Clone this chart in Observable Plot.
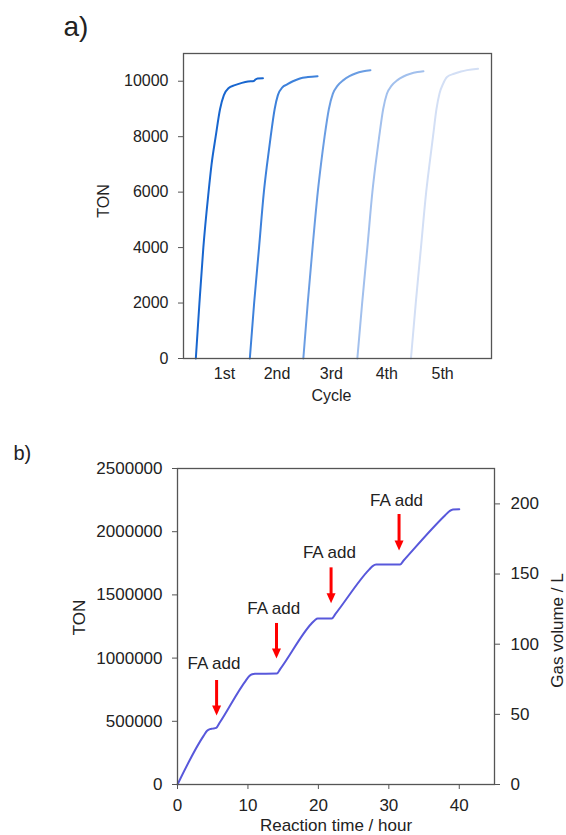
<!DOCTYPE html>
<html>
<head>
<meta charset="utf-8">
<script src="https://cdn.jsdelivr.net/npm/d3@7"></script>
<script src="https://cdn.jsdelivr.net/npm/@observablehq/plot@0.6"></script>
<style>
  body { margin: 0; background: #fff; }
  #fig { position: relative; width: 566px; height: 835px; }
  #fig svg { position: absolute; left: 0; }
</style>
</head>
<body>
<div id="fig"></div>
<script>
// ---------- a) TON of five successive recycling runs ----------
// x is elapsed time in arbitrary units; each run is drawn after the previous one
const cycleLabels = ["1st", "2nd", "3rd", "4th", "5th"];
const cycleLabelPos = [40.9, 93.3, 147.6, 202.9, 258.6];
const cycleStart = [12.3, 66.2, 119.6, 173.5, 227];
const cycleColors = ["#1866cf", "#3d81db", "#6a9de3", "#a2c0ed", "#d3dff5"];
const tonTicksA = [0, 2000, 4000, 6000, 8000, 10000];

// [time since start of run, TON]
const run1 = [[0, 0], [3.6, 2000], [7.5, 4000], [12.7, 6000], [15.7, 7000], [19.8, 8000], [24.2, 9000],
  [28, 9500], [32.5, 9750], [39, 9860], [46, 9940], [52, 9990], [58, 10010], [59.5, 10060],
  [61.6, 10100], [67, 10110]];
const run2 = [[0, 0], [4.3, 2000], [9.2, 4000], [14, 6000], [17.2, 7000], [20.8, 8000], [24.8, 9000],
  [28, 9500], [32.5, 9780], [37, 9880], [43, 10000], [50, 10100], [58, 10150], [67.6, 10180]];
const run3 = [[0, 0], [4.4, 2000], [9.2, 4000], [14.4, 6000], [17.6, 7000], [21.2, 8000], [25.5, 9000],
  [29.5, 9550], [34, 9830], [40, 10040], [46, 10180], [52, 10280], [60, 10360], [67, 10400]];
const run4 = [[0, 0], [4.8, 2000], [10, 4000], [15, 6000], [18.2, 7000], [21.8, 8000], [25.8, 9000],
  [29.5, 9550], [34, 9830], [40, 10040], [46, 10170], [53, 10270], [60, 10330], [66, 10360]];
const run5 = [[0, 0], [4.8, 2000], [10, 4000], [15.2, 6000], [18.5, 7000], [22, 8000], [25.5, 9000],
  [28.5, 9560], [32, 9900], [36, 10150], [43, 10270], [50, 10350], [56, 10400], [67, 10450]];

// ---------- b) long-run TON with repeated formic acid addition ----------
const hours = [0, 3.7, 4.2, 4.6, 5.0, 5.5, 6.0, 9.7, 10.2, 10.6, 11.0, 14.1, 14.6, 19.0, 19.5,
  19.9, 21.9, 22.4, 27.2, 27.7, 28.2, 31.6, 32.1, 38.0, 38.6, 39.1, 40.0];
const tonB = [0, 385000, 425000, 438000, 442000, 448000, 490000, 822000, 858000, 872000, 876000,
  878000, 915000, 1272000, 1300000, 1313000, 1313000, 1348000, 1700000, 1728000, 1740000,
  1741000, 1772000, 2130000, 2162000, 2176000, 2178000];
const hourTicks = [0, 10, 20, 30, 40];
const tonTicksB = [0, 500000, 1000000, 1500000, 2000000, 2500000];
const gasTicks = [0, 50, 100, 150, 200];
const tonPerLitre = 11100;

const faLabel = "FA add";
const faHour = [5.55, 14.05, 21.8, 31.45];
const faTop = [823000, 1274000, 1714000, 2136000];
const faTip = [546000, 997000, 1434000, 1851000];
const faLabelHour = [5.17, 13.65, 21.56, 31.1];
const faLabelTon = [960000, 1392000, 1838000, 2247000];

const font = "'Liberation Sans', Arial, sans-serif";
const ink = "#222";
const axisGray = "#555";
const centered = {textAnchor: "middle", lineAnchor: "middle", fill: ink};

const runs = [run1, run2, run3, run4, run5];
const rowsA = runs.flatMap((run, i) =>
  run.map(([dt, ton]) => ({cycle: cycleLabels[i], t: cycleStart[i] + dt, ton})));

const chartA = Plot.plot({
  width: 566,
  height: 420,
  marginTop: 53,
  marginBottom: 62,
  marginLeft: 183,
  marginRight: 75,
  style: {fontFamily: font, fontSize: "16px", color: ink, background: "transparent"},
  x: {domain: [0, 307.4]},
  y: {domain: [0, 11000]},
  color: {domain: cycleLabels, range: cycleColors},
  marks: [
    Plot.line(rowsA, {x: "t", y: "ton", z: "cycle", stroke: "cycle", strokeWidth: 2, curve: "monotone-x"}),
    Plot.frame({stroke: axisGray, strokeWidth: 1.3}),
    Plot.axisY(tonTicksA, {tickSize: 5, tickPadding: 10, stroke: axisGray, tickFormat: d3.format("d"), label: null, fontSize: 16}),
    Plot.axisX(cycleLabelPos, {tickSize: 0, tickPadding: 9, label: null, fontSize: 16,
      tickFormat: d => cycleLabels[cycleLabelPos.indexOf(d)]}),
    Plot.text(["Cycle"], {...centered, frameAnchor: "bottom", dx: -6, dy: 37, fontSize: 16}),
    Plot.text(["TON"], {...centered, frameAnchor: "left", dx: -80, dy: -5, rotate: -90, fontSize: 16}),
    Plot.text(["a)"], {frameAnchor: "top-left", dx: -120, dy: -17.5, lineAnchor: "bottom", textAnchor: "start", fontSize: 28, fill: ink})
  ]
});

const faRows = faHour.map((h, i) => ({x: h, top: faTop[i], tip: faTip[i], lx: faLabelHour[i], ly: faLabelTon[i]}));
const rowsB = hours.map((h, i) => ({h, ton: tonB[i]}));

// filled head of the addition arrows, tip at the origin
const downHead = {
  draw(ctx) {
    ctx.moveTo(-4.5, -10);
    ctx.lineTo(4.5, -10);
    ctx.lineTo(0, 0);
    ctx.closePath();
  }
};

const chartB = Plot.plot({
  width: 566,
  height: 415,
  marginTop: 48,
  marginBottom: 51,
  marginLeft: 177,
  marginRight: 72,
  style: {fontFamily: font, fontSize: "17px", color: ink, background: "transparent"},
  x: {domain: [0, 45]},
  y: {domain: [0, 2500000]},
  marks: [
    Plot.line(rowsB, {x: "h", y: "ton", stroke: "#5858db", strokeWidth: 2, curve: "monotone-x"}),
    Plot.ruleX(faRows, {x: "x", y1: "top", y2: "tip", stroke: "#ff0000", strokeWidth: 3, insetBottom: 8}),
    Plot.dot(faRows, {x: "x", y: "tip", symbol: downHead, fill: "#ff0000", stroke: "none", r: 5}),
    Plot.text(faRows, {x: "lx", y: "ly", text: () => faLabel, fontSize: 17, fill: ink}),
    Plot.frame({stroke: axisGray, strokeWidth: 1.3}),
    Plot.axisY(tonTicksB, {anchor: "left", tickSize: 5, tickPadding: 10, stroke: axisGray, tickFormat: d3.format("d"), label: null, fontSize: 17}),
    Plot.axisY(gasTicks.map(v => v * tonPerLitre), {anchor: "right", tickSize: 5, tickPadding: 11, stroke: axisGray,
      tickFormat: d => String(Math.round(d / tonPerLitre)), label: null, fontSize: 17}),
    Plot.axisX(hourTicks, {tickSize: 5, tickPadding: 9, stroke: axisGray, label: null, fontSize: 17}),
    Plot.text(["Reaction time / hour"], {...centered, frameAnchor: "bottom", dy: 41, fontSize: 17}),
    Plot.text(["TON"], {...centered, frameAnchor: "left", dx: -98, dy: -9, rotate: -90, fontSize: 17}),
    Plot.text(["Gas volume / L"], {...centered, frameAnchor: "right", dx: 63, dy: 4, rotate: -90, fontSize: 17}),
    Plot.text(["b)"], {frameAnchor: "top-left", dx: -164, dy: -15, lineAnchor: "middle", textAnchor: "start", fontSize: 20, fill: ink})
  ]
});

const fig = document.getElementById("fig");
chartA.style.top = "0px";
chartB.style.top = "420px";
fig.append(chartA, chartB);
</script>
</body>
</html>
